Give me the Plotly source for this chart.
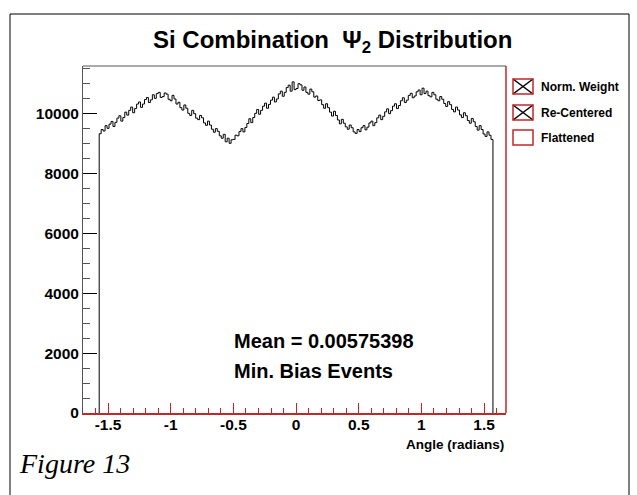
import numpy as np
import plotly.graph_objects as go

# Histogram contents (200 bins from -pi/2 to pi/2)
counts = [
    9320, 9460, 9410, 9590, 9500, 9640, 9730, 9560, 9700, 9840,
    9920, 9740, 9860, 10040, 9940, 10100, 10210, 10020, 10160, 10310,
    10380, 10200, 10310, 10460, 10530, 10360, 10450, 10620, 10500, 10660,
    10700, 10530, 10560, 10680, 10640, 10470, 10420, 10600, 10480, 10310,
    10370, 10190, 10110, 10280, 10170, 10000, 9930, 10100, 9990, 9840,
    9790, 9930, 9850, 9680, 9600, 9740, 9610, 9470, 9370, 9490,
    9400, 9250, 9170, 9300, 9050, 9170, 9000, 9120, 9130, 9270,
    9250, 9390, 9490, 9380, 9530, 9660, 9820, 9690, 9860, 10000,
    10130, 9970, 10100, 10240, 10340, 10170, 10300, 10440, 10540, 10380,
    10480, 10650, 10740, 10570, 10700, 10860, 10940, 10740, 11050, 10790,
    10830, 10990, 10950, 10770, 10880, 10700, 10640, 10810, 10720, 10540,
    10580, 10430, 10450, 10290, 10170, 10320, 10190, 10040, 9910, 10070,
    9930, 9780, 9650, 9800, 9670, 9550, 9470, 9610, 9520, 9380,
    9330, 9460, 9390, 9520, 9590, 9450, 9540, 9680, 9740, 9590,
    9690, 9850, 9940, 9790, 9900, 10050, 10150, 9990, 10090, 10240,
    10320, 10160, 10260, 10420, 10520, 10360, 10440, 10600, 10670, 10520,
    10580, 10720, 10780, 10620, 10840, 10660, 10740, 10590, 10550, 10700,
    10620, 10470, 10420, 10560, 10470, 10330, 10230, 10390, 10290, 10130,
    10050, 10210, 10110, 9950, 9860, 10020, 9920, 9760, 9670, 9830,
    9720, 9560, 9440, 9590, 9460, 9310, 9230, 9380, 9270, 9130,
]
x_tick_vals = [-1.5, -1.0, -0.5, 0.0, 0.5, 1.0, 1.5]
x_tick_text = ["-1.5", "-1", "-0.5", "0", "0.5", "1", "1.5"]
y_tick_vals = [0, 2000, 4000, 6000, 8000, 10000]
y_tick_text = ["0", "2000", "4000", "6000", "8000", "10000"]
legend_labels = ["Norm. Weight", "Re-Centered", "Flattened"]
legend_cross = [True, True, False]
mean_text = "Mean = 0.00575398"
events_text = "Min. Bias Events"

nb = len(counts)
edges = np.linspace(-np.pi / 2, np.pi / 2, nb + 1)
xs = [edges[0]] + list(edges) + [edges[-1]]
ys = [0] + counts + [counts[-1], 0]

RED = "#c0282a"
DARK = "#555555"
W, H = 637, 495
ML, MR, MT, MB = 83, 131, 66, 82
PW, PH = W - ML - MR, H - MT - MB


def px(p):
    return (p - ML) / PW


def py(p):
    return (H - MB - p) / PH


fig = go.Figure()
fig.add_trace(go.Scatter(x=xs, y=ys, mode="lines", line=dict(color="black", width=1, shape="hv"),
                         hoverinfo="skip", showlegend=False))

SANS = "Liberation Sans, Arial"
tickf = dict(family=SANS, size=15.5, color="black", weight="bold")

fig.update_layout(
    width=W, height=H, margin=dict(l=ML, r=MR, t=MT, b=MB),
    paper_bgcolor="white", plot_bgcolor="white", showlegend=False,
    xaxis=dict(range=[-1.70, 1.675], tickvals=x_tick_vals, ticktext=x_tick_text,
               ticks="inside", ticklen=10, tickcolor=RED, tickwidth=1,
               showline=True, linecolor=RED, linewidth=1.5, showgrid=False, zeroline=False,
               minor=dict(tick0=0, dtick=0.1, ticks="inside", ticklen=5, tickcolor=RED, showgrid=False),
               tickfont=tickf, ticklabelstandoff=-3),
    yaxis=dict(range=[0, 11580], tickvals=y_tick_vals, ticktext=y_tick_text,
               ticks="inside", ticklen=14, tickcolor="black", tickwidth=1,
               showline=True, linecolor=DARK, linewidth=1, showgrid=False, zeroline=False,
               minor=dict(tick0=0, dtick=500, ticks="inside", ticklen=7, tickcolor=DARK, showgrid=False),
               tickfont=tickf),
)

shapes = []
# frame top and right
shapes.append(dict(type="line", xref="paper", yref="paper", x0=0, x1=1, y0=1, y1=1,
                   line=dict(color=DARK, width=1)))
shapes.append(dict(type="line", xref="paper", yref="paper", x0=1, x1=1, y0=0, y1=1,
                   line=dict(color=RED, width=1.5)))
# outer frame
for (a, b, c, d) in [(10, 14, 10, 495), (10, 14, 629, 14), (629, 14, 629, 495)]:
    shapes.append(dict(type="line", xref="paper", yref="paper", x0=px(a), y0=py(b), x1=px(c), y1=py(d),
                       line=dict(color="black", width=1)))
# legend boxes
box_tops = [79, 105, 130]
for top, cross, label in zip(box_tops, legend_cross, legend_labels):
    x0, x1, y0, y1 = px(513), px(533), py(top), py(top + 15)
    if cross:
        shapes.append(dict(type="line", xref="paper", yref="paper", x0=x0, y0=y0, x1=x1, y1=y1,
                           line=dict(color="black", width=1.5)))
        shapes.append(dict(type="line", xref="paper", yref="paper", x0=x0, y0=y1, x1=x1, y1=y0,
                           line=dict(color="black", width=1.5)))
    shapes.append(dict(type="rect", xref="paper", yref="paper", x0=x0, y0=y0, x1=x1, y1=y1,
                       line=dict(color=RED, width=1.5), fillcolor="rgba(0,0,0,0)"))
    fig.add_annotation(x=px(539), y=py(top + 7.5), xref="paper", yref="paper", text=label,
                       showarrow=False, xanchor="left", yanchor="middle",
                       font=dict(family=SANS, size=12, color="black", weight="bold"))
fig.update_layout(shapes=shapes)

# title
fig.add_annotation(x=px(332), y=py(41), xref="paper", yref="paper",
                   text="Si Combination  Ψ<sub>2</sub> Distribution", showarrow=False,
                   xanchor="center", yanchor="middle",
                   font=dict(family=SANS, size=24, color="black", weight="bold"))
# text in plot
fig.add_annotation(x=px(232), y=py(341), xref="paper", yref="paper", text=mean_text, showarrow=False,
                   xanchor="left", yanchor="middle",
                   font=dict(family=SANS, size=20, color="black", weight="bold"))
fig.add_annotation(x=px(232), y=py(371), xref="paper", yref="paper", text=events_text, showarrow=False,
                   xanchor="left", yanchor="middle",
                   font=dict(family=SANS, size=20, color="black", weight="bold"))
# x axis title
fig.add_annotation(x=px(506), y=py(444), xref="paper", yref="paper", text="Angle (radians)",
                   showarrow=False, xanchor="right", yanchor="middle",
                   font=dict(family=SANS, size=13.5, color="black", weight="bold"))
# figure caption
fig.add_annotation(x=px(17), y=py(464), xref="paper", yref="paper", text="<i>Figure 13</i>",
                   showarrow=False, xanchor="left", yanchor="middle",
                   font=dict(family="Liberation Serif, Times New Roman", size=28, color="black"))

fig.write_html("out.html")
